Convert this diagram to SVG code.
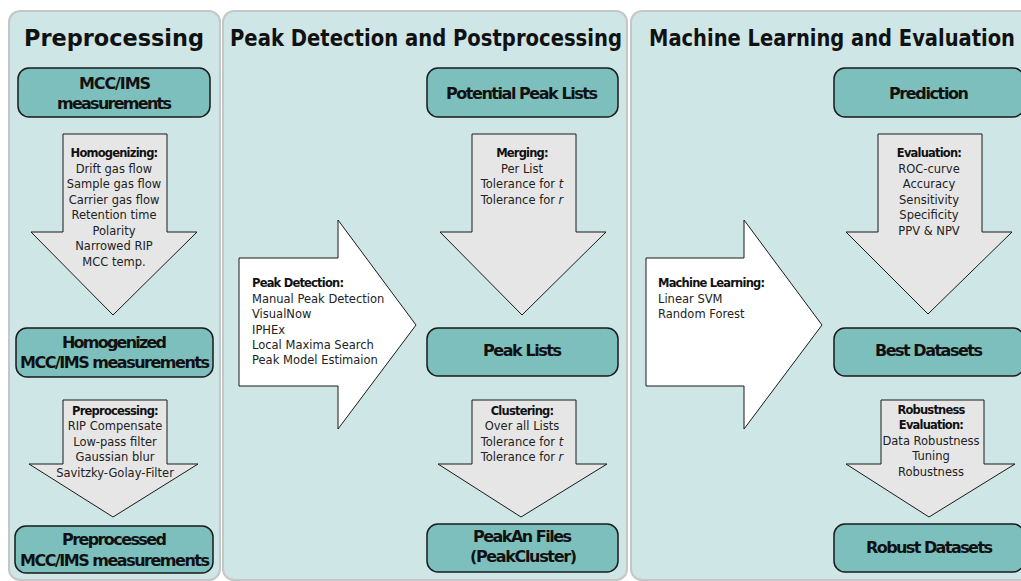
<svg xmlns="http://www.w3.org/2000/svg" width="1021" height="581" viewBox="0 0 1021 581">
  <style>
    .panel { fill: #cee6e6; stroke: #c6c6c6; stroke-width: 2; }
    .title { font-family: "DejaVu Sans", Verdana, sans-serif; font-weight: bold; font-size: 23px; fill: #111; text-anchor: middle; }
    .node rect { fill: #7dbfbd; stroke: #1a1a1a; stroke-width: 1.5; }
    .node text { font-family: "DejaVu Sans", Verdana, sans-serif; font-weight: bold; font-size: 16px; fill: #111; text-anchor: middle; }
    .down { fill: #e6e6e6; stroke: #1a1a1a; stroke-width: 1; }
    .right { fill: #ffffff; stroke: #1a1a1a; stroke-width: 1; }
    .lbl { font-family: "DejaVu Sans", Verdana, sans-serif; font-size: 11.5px; fill: #222; }
    .c { text-anchor: middle; }
    .b { font-weight: bold; letter-spacing: -0.8px; fill: #111; }
  </style>

  <!-- stage panels -->
  <g id="panels">
    <rect class="panel" x="9" y="11" width="211" height="569" rx="11"/>
    <rect class="panel" x="223" y="11" width="404" height="569" rx="11"/>
    <rect class="panel" x="631" y="11" width="400" height="569" rx="11"/>
    <text class="title" x="114" y="46" textLength="180" lengthAdjust="spacingAndGlyphs">Preprocessing</text>
    <text class="title" x="426" y="46" textLength="392" lengthAdjust="spacingAndGlyphs">Peak Detection and Postprocessing</text>
    <text class="title" x="832" y="46" textLength="366" lengthAdjust="spacingAndGlyphs">Machine Learning and Evaluation</text>
  </g>

  <!-- process arrows -->
  <g id="connectors">
    <g id="arrow-homogenizing">
      <path class="down" d="M63,134 H167 V232 H197 L113,315 L31,232 H63 Z"/>
      <text class="lbl c b" x="114" y="157">Homogenizing:</text>
      <text class="lbl c" x="114" y="172.5">Drift gas flow</text>
      <text class="lbl c" x="114" y="188">Sample gas flow</text>
      <text class="lbl c" x="114" y="203.5">Carrier gas flow</text>
      <text class="lbl c" x="114" y="219">Retention time</text>
      <text class="lbl c" x="114" y="234.5">Polarity</text>
      <text class="lbl c" x="114" y="250">Narrowed RIP</text>
      <text class="lbl c" x="114" y="265.5">MCC temp.</text>
    </g>
    <g id="arrow-preprocessing">
      <path class="down" d="M63,400 H167 V464 H198 L113,517 L29,464 H63 Z"/>
      <text class="lbl c b" x="115" y="415">Preprocessing:</text>
      <text class="lbl c" x="115" y="430.4">RIP Compensate</text>
      <text class="lbl c" x="115" y="445.8">Low-pass filter</text>
      <text class="lbl c" x="115" y="461.2">Gaussian blur</text>
      <text class="lbl c" x="115" y="476.6">Savitzky-Golay-Filter</text>
    </g>
    <g id="arrow-merging">
      <path class="down" d="M472,134 H576 V232 H606 L522,315 L440,232 H472 Z"/>
      <text class="lbl c b" x="522" y="157">Merging:</text>
      <text class="lbl c" x="522" y="172.5">Per List</text>
      <text class="lbl c" x="522" y="188">Tolerance for <tspan font-style="italic">t</tspan></text>
      <text class="lbl c" x="522" y="203.5">Tolerance for <tspan font-style="italic">r</tspan></text>
    </g>
    <g id="arrow-clustering">
      <path class="down" d="M472,400 H576 V464 H607 L521,517 L438,464 H472 Z"/>
      <text class="lbl c b" x="522" y="415">Clustering:</text>
      <text class="lbl c" x="522" y="430.4">Over all Lists</text>
      <text class="lbl c" x="522" y="445.8">Tolerance for <tspan font-style="italic">t</tspan></text>
      <text class="lbl c" x="522" y="461.2">Tolerance for <tspan font-style="italic">r</tspan></text>
    </g>
    <g id="arrow-evaluation">
      <path class="down" d="M878,134 H982 V232 H1012 L928,314 L846,232 H878 Z"/>
      <text class="lbl c b" x="929" y="157">Evaluation:</text>
      <text class="lbl c" x="929" y="172.5">ROC-curve</text>
      <text class="lbl c" x="929" y="188">Accuracy</text>
      <text class="lbl c" x="929" y="203.5">Sensitivity</text>
      <text class="lbl c" x="929" y="219">Specificity</text>
      <text class="lbl c" x="929" y="234.5">PPV &amp; NPV</text>
    </g>
    <g id="arrow-robustness">
      <path class="down" d="M881,400 H984 V464 H1015 L929,517 L846,464 H881 Z"/>
      <text class="lbl c b" x="931" y="413.5">Robustness</text>
      <text class="lbl c b" x="931" y="429">Evaluation:</text>
      <text class="lbl c" x="931" y="444.5">Data Robustness</text>
      <text class="lbl c" x="931" y="460">Tuning</text>
      <text class="lbl c" x="931" y="475.5">Robustness</text>
    </g>
    <g id="arrow-peak-detection">
      <path class="right" d="M239,258 H338 V220 L416,325 L338,429 V386 H239 Z"/>
      <text class="lbl b" x="252" y="287.3">Peak Detection:</text>
      <text class="lbl" x="252" y="302.7">Manual Peak Detection</text>
      <text class="lbl" x="252" y="318.1">VisualNow</text>
      <text class="lbl" x="252" y="333.5">IPHEx</text>
      <text class="lbl" x="252" y="348.9">Local Maxima Search</text>
      <text class="lbl" x="252" y="364.3">Peak Model Estimaion</text>
    </g>
    <g id="arrow-machine-learning">
      <path class="right" d="M646,258 H744 V220 L822,325 L744,429 V386 H646 Z"/>
      <text class="lbl b" x="658" y="287.3">Machine Learning:</text>
      <text class="lbl" x="658" y="302.7">Linear SVM</text>
      <text class="lbl" x="658" y="318.1">Random Forest</text>
    </g>
  </g>

  <!-- data nodes -->
  <g id="node-mcc-ims" class="node">
    <rect x="18" y="68" width="192" height="49" rx="11"/>
    <text x="115" y="89" textLength="72">MCC/IMS</text>
    <text x="114.5" y="109" textLength="115">measurements</text>
  </g>
  <g id="node-homogenized" class="node">
    <rect x="16" y="328" width="197" height="49" rx="11"/>
    <text x="114.5" y="348" textLength="105">Homogenized</text>
    <text x="115" y="368" textLength="190">MCC/IMS measurements</text>
  </g>
  <g id="node-preprocessed" class="node">
    <rect x="15" y="526" width="198" height="47" rx="11"/>
    <text x="114.5" y="545" textLength="105">Preprocessed</text>
    <text x="115" y="566" textLength="190">MCC/IMS measurements</text>
  </g>
  <g id="node-potential-peak-lists" class="node">
    <rect x="427" y="68" width="191" height="49" rx="11"/>
    <text x="522" y="99" textLength="152">Potential Peak Lists</text>
  </g>
  <g id="node-peak-lists" class="node">
    <rect x="427" y="328" width="191" height="48" rx="11"/>
    <text x="522.5" y="356" textLength="79">Peak Lists</text>
  </g>
  <g id="node-peakan-files" class="node">
    <rect x="427" y="524" width="191" height="48" rx="11"/>
    <text x="522.5" y="542" textLength="99">PeakAn Files</text>
    <text x="523.5" y="562" textLength="107">(PeakCluster)</text>
  </g>
  <g id="node-prediction" class="node">
    <rect x="834" y="68" width="190" height="49" rx="11"/>
    <text x="929" y="99" textLength="80">Prediction</text>
  </g>
  <g id="node-best-datasets" class="node">
    <rect x="834" y="328" width="190" height="48" rx="11"/>
    <text x="929" y="356" textLength="108">Best Datasets</text>
  </g>
  <g id="node-robust-datasets" class="node">
    <rect x="834" y="524" width="190" height="48" rx="11"/>
    <text x="929.5" y="553" textLength="127">Robust Datasets</text>
  </g>
</svg>
